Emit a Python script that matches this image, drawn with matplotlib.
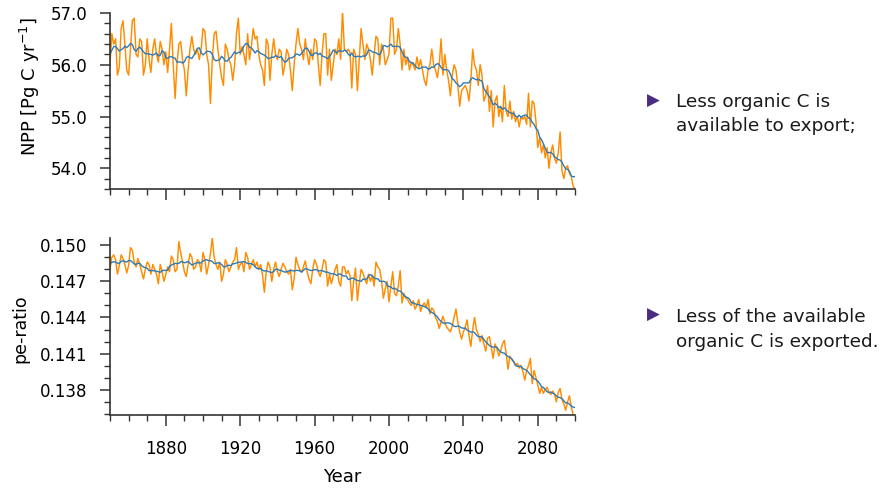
import numpy as np
import pandas as pd
import matplotlib
matplotlib.use("Agg")
import matplotlib.pyplot as plt
from matplotlib.ticker import MultipleLocator, FormatStrFormatter

years = np.arange(1850, 2101)

npp = [
    # 1850s
    56.0, 56.6, 56.4, 56.5, 55.8, 55.95, 56.7, 56.85, 56.4, 55.9,
    # 1860s
    55.8, 56.3, 56.85, 56.9, 56.2, 56.15, 56.5, 56.45, 55.8, 56.0,
    # 1870s
    56.5, 56.1, 55.85, 56.3, 56.5, 56.2, 56.05, 56.45, 56.3, 56.0,
    # 1880s
    56.25, 55.85, 56.3, 56.8, 56.0, 55.35, 56.0, 56.4, 56.45, 56.1,
    # 1890s
    55.9, 55.4, 55.9, 56.3, 56.55, 56.3, 56.2, 56.3, 56.1, 56.3,
    # 1900s
    56.7, 56.65, 56.2, 56.0, 55.25, 56.1, 56.6, 56.65, 56.3, 56.0,
    # 1910s
    55.75, 55.6, 56.4, 56.3, 56.1, 56.0, 55.7, 56.0, 56.6, 56.9,
    # 1920s
    56.2, 56.35, 56.2, 56.0, 56.6, 56.1, 56.35, 56.7, 56.5, 56.55,
    # 1930s
    56.2, 56.0, 55.9, 55.6, 56.5, 56.4, 55.7, 56.2, 56.5, 56.2,
    # 1940s
    56.1, 56.3, 56.25, 55.8, 56.0, 56.3, 56.2, 55.9, 55.5, 56.0,
    # 1950s
    56.4, 56.7, 56.4, 56.3, 56.1, 56.5, 56.2, 56.0, 56.3, 56.1,
    # 1960s
    56.5, 56.45, 56.0, 55.6, 56.2, 56.6, 56.6, 55.8, 56.3, 55.7,
    # 1970s
    56.0, 56.3, 56.2, 56.5, 56.1, 57.05, 56.3, 56.25, 56.3, 56.25,
    # 1980s
    55.55, 56.3, 56.2, 55.5, 56.1, 56.7, 56.4, 56.1, 56.4, 56.3,
    # 1990s
    56.1, 55.8, 56.2, 56.55, 56.5, 56.0, 56.4, 56.3, 56.0, 56.1,
    # 2000s
    56.2, 56.9, 56.9, 56.2, 56.3, 56.7, 56.4, 55.9, 56.3, 56.0,
    # 2010s
    56.15, 55.9, 56.05, 56.0, 55.9, 56.15, 55.95, 56.1, 55.9, 55.7,
    # 2020s
    55.6, 55.9, 56.0, 56.3, 56.0, 55.9, 55.75, 56.0, 56.5, 55.8,
    # 2030s
    56.2, 55.9, 55.7, 55.4, 55.8, 56.0, 55.9, 55.6, 55.2, 55.5,
    # 2040s
    55.55, 55.6, 55.5, 55.3, 55.7, 56.3, 56.0, 55.9, 55.6, 56.0,
    # 2050s
    55.8, 55.3, 55.4, 55.6, 55.1, 55.5, 54.8, 55.3, 55.4, 55.0,
    # 2060s
    55.2, 54.9, 55.6, 55.1, 55.0, 55.3, 54.95, 55.1, 54.9, 55.0,
    # 2070s
    54.8, 55.0, 54.95, 55.0, 54.85, 55.45, 54.8, 55.3, 55.25, 54.9,
    # 2080s
    54.4, 54.6, 54.3, 54.45, 54.2, 54.4, 54.0, 54.3, 54.45, 54.2,
    # 2090s
    54.1, 54.3, 54.7, 53.95, 53.8, 54.0, 54.05, 53.9, 53.85, 53.65,
    # 2100
    53.6,
]

pe_ratio = [
    # 1850s
    0.1480, 0.1490, 0.1492, 0.1488, 0.1476, 0.1483, 0.1492, 0.1489, 0.1484, 0.1477,
    # 1860s
    0.1483, 0.1498, 0.1496, 0.1486, 0.1482, 0.1489, 0.1484, 0.1478, 0.1472, 0.1480,
    # 1870s
    0.1486, 0.1484, 0.1476, 0.1484, 0.1480, 0.1476, 0.1468, 0.1484, 0.1478, 0.1470,
    # 1880s
    0.1476, 0.1482, 0.1478, 0.1491, 0.1488, 0.1478, 0.1480, 0.1503, 0.1494, 0.1486,
    # 1890s
    0.1478, 0.1474, 0.1484, 0.1493, 0.1490, 0.1480, 0.1482, 0.1488, 0.1486, 0.1478,
    # 1900s
    0.1494, 0.1488, 0.1476, 0.1484, 0.1493, 0.1506, 0.1490, 0.1484, 0.1480, 0.1486,
    # 1910s
    0.1470, 0.1476, 0.1488, 0.1484, 0.1478, 0.1482, 0.1486, 0.1488, 0.1498, 0.1480,
    # 1920s
    0.1484, 0.1486, 0.1478, 0.1494, 0.1490, 0.1480, 0.1484, 0.1488, 0.1482, 0.1486,
    # 1930s
    0.1480, 0.1484, 0.1475, 0.1461, 0.1478, 0.1486, 0.1482, 0.1470, 0.1480, 0.1486,
    # 1940s
    0.1478, 0.1474, 0.1480, 0.1485, 0.1482, 0.1478, 0.1476, 0.1480, 0.1463, 0.1472,
    # 1950s
    0.1490, 0.1484, 0.1480, 0.1478, 0.1482, 0.1487, 0.1478, 0.1472, 0.1468, 0.1480,
    # 1960s
    0.1488, 0.1484, 0.1478, 0.1474, 0.1480, 0.1488, 0.1486, 0.1466, 0.1476, 0.1468,
    # 1970s
    0.1474, 0.1480, 0.1484, 0.1470, 0.1466, 0.1482, 0.1482, 0.1476, 0.1479, 0.1475,
    # 1980s
    0.1454, 0.1470, 0.1481, 0.1454, 0.1468, 0.1480, 0.1477, 0.1472, 0.1468, 0.1476,
    # 1990s
    0.1470, 0.1475, 0.1466, 0.1486, 0.1482, 0.1480, 0.1470, 0.1456, 0.1464, 0.1470,
    # 2000s
    0.1453, 0.1466, 0.1478, 0.1460, 0.1458, 0.1466, 0.1479, 0.1452, 0.1460, 0.1456,
    # 2010s
    0.1455, 0.1452, 0.1450, 0.1454, 0.1447, 0.1450, 0.1455, 0.1445, 0.1450, 0.1452,
    # 2020s
    0.1448, 0.1455, 0.1443, 0.1448, 0.1446, 0.1440, 0.1437, 0.1431, 0.1436, 0.1441,
    # 2030s
    0.1436, 0.1432, 0.1430, 0.1428, 0.1433, 0.1440, 0.1447, 0.1436, 0.1428, 0.1422,
    # 2040s
    0.1428, 0.1432, 0.1438, 0.1425, 0.1416, 0.1430, 0.1440, 0.1430, 0.1426, 0.1420,
    # 2050s
    0.1425, 0.1418, 0.1412, 0.1423, 0.1424, 0.1415, 0.1406, 0.1418, 0.1414, 0.1408,
    # 2060s
    0.1412, 0.1418, 0.1421, 0.1410, 0.1397, 0.1408, 0.1405, 0.1403, 0.1400, 0.1402,
    # 2070s
    0.1398, 0.1400, 0.1395, 0.1388, 0.1396, 0.1400, 0.1406, 0.1385, 0.1396, 0.1390,
    # 2080s
    0.1384, 0.1377, 0.1382, 0.1377, 0.1380, 0.1382, 0.1378, 0.1376, 0.1379, 0.1376,
    # 2090s
    0.1370, 0.1378, 0.1381, 0.1372, 0.1368, 0.1363, 0.1370, 0.1375, 0.1366, 0.1359,
    # 2100
    0.1358,
]

x_major = [1880, 1920, 1960, 2000, 2040, 2080]
npp_ticks = [54.0, 55.0, 56.0, 57.0]
pe_ticks = [0.138, 0.141, 0.144, 0.147, 0.150]

bullet_lines = [
    ["Less organic C is", "available to export;"],
    ["Less of the available", "organic C is exported."],
]

assert len(npp) == len(years) and len(pe_ratio) == len(years)

# running mean (smoothed curves)
npp_smooth = pd.Series(npp).rolling(11, center=True, min_periods=1).mean().values
pe_smooth = pd.Series(pe_ratio).rolling(11, center=True, min_periods=1).mean().values

plt.rcParams['font.family'] = ['DejaVu Sans']
plt.rcParams['mathtext.default'] = 'regular'

ORANGE = '#ff8c00'
BLUE = '#2b7bba'
SPINE = '#333333'
W, H = 882, 488

fig = plt.figure(figsize=(8.82, 4.88), dpi=100)
ax1 = fig.add_axes([110/W, 1-189/H, 465/W, 176/H])
ax2 = fig.add_axes([110/W, 1-415/H, 465/W, 177/H])

for ax, y, ys in ((ax1, npp, npp_smooth), (ax2, pe_ratio, pe_smooth)):
    ax.plot(years, y, color=ORANGE, lw=1.05)
    ax.plot(years, ys, color=BLUE, lw=1.0)
    ax.set_xlim(1850, 2100)
    ax.xaxis.set_major_locator(plt.FixedLocator(x_major))
    ax.xaxis.set_minor_locator(MultipleLocator(10))
    for s in ('top', 'right'):
        ax.spines[s].set_visible(False)
    for s in ('left', 'bottom'):
        ax.spines[s].set_color(SPINE)
        ax.spines[s].set_linewidth(1.2)
    ax.tick_params(which='major', direction='out', length=8, width=1.1,
                   color=SPINE, labelsize=12)
    ax.tick_params(which='minor', direction='out', length=4.2, width=1.0,
                   color=SPINE)
    ax.tick_params(axis='y', which='major', length=7.2, pad=9)
    ax.tick_params(axis='x', which='major', pad=10)

ax1.set_ylim(53.6, 57.0)
ax1.yaxis.set_major_locator(plt.FixedLocator(npp_ticks))
ax1.yaxis.set_minor_locator(MultipleLocator(0.2))
ax1.yaxis.set_major_formatter(FormatStrFormatter('%.1f'))
ax1.tick_params(axis='x', labelbottom=False)
ax1.set_ylabel('NPP [Pg C yr$^{-1}$]', fontsize=13)
ax1.yaxis.set_label_coords((30-110)/465, (189-86)/176)
ax1.yaxis.label.set_verticalalignment('center')

ax2.set_ylim(0.1359, 0.1506)
ax2.yaxis.set_major_locator(plt.FixedLocator(pe_ticks))
ax2.yaxis.set_minor_locator(MultipleLocator(0.001))
ax2.yaxis.set_major_formatter(FormatStrFormatter('%.3f'))
ax2.set_ylabel('pe-ratio', fontsize=12.5)
ax2.yaxis.set_label_coords((20-110)/465, 0.49)
ax2.yaxis.label.set_verticalalignment('center')
ax2.set_xlabel('Year', fontsize=13)
ax2.xaxis.set_label_coords(0.5, -(477-415)/177)
ax2.xaxis.label.set_verticalalignment('center')

PURPLE = '#4b2c7f'
tri_y = [101, 315]
base_y = [(107, 131), (322, 347)]
for ty, (b1, b2), lines in zip(tri_y, base_y, bullet_lines):
    fig.text(647/W, 1-ty/H, '\u25B6', color=PURPLE, fontsize=12,
             va='center', ha='left')
    for by, line in zip((b1, b2), lines):
        fig.text(676/W, 1-by/H, line, fontsize=13.3, va='baseline', ha='left',
                 color='#1a1a1a')

fig.savefig('out.png', dpi=100)
